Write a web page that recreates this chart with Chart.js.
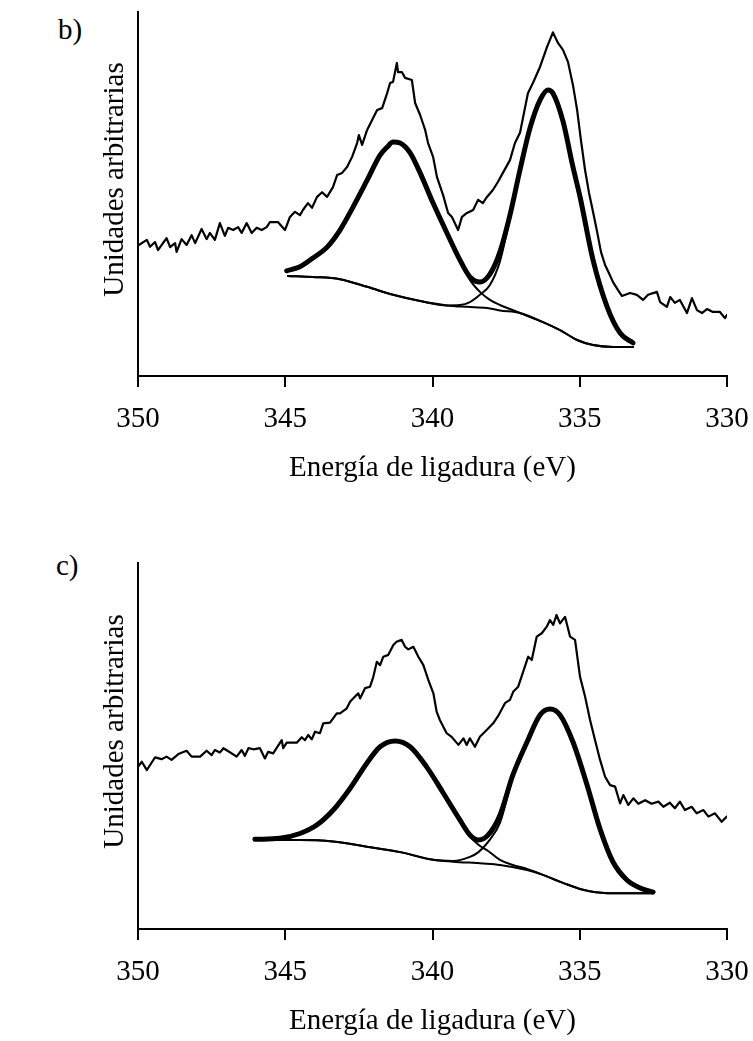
<!DOCTYPE html>
<html>
<head>
<meta charset="utf-8">
<script src="https://cdn.jsdelivr.net/npm/chart.js@4.4.0/dist/chart.umd.min.js"></script>
<style>
  body { margin: 0; background: #fff; }
  #page { position: relative; width: 753px; height: 1041px; }
  canvas { position: absolute; left: 0; }
  .panel { position: absolute; font-family: 'Liberation Serif', 'Times New Roman', serif; font-size: 29px; line-height: 29px; color: #000; }
</style>
</head>
<body>
<div id="page">
  <div class="panel" style="left:58px; top:15px;">b)</div>
  <canvas id="chartB" width="753" height="500" style="top:0px"></canvas>
  <div class="panel" style="left:56px; top:551px;">c)</div>
  <canvas id="chartC" width="753" height="490" style="top:551px"></canvas>
</div>
<script>
// binding energy (eV) vs intensity (arbitrary units, 0-100 of the axis height)
const xTicks = [350, 345, 340, 335, 330]

// ---- panel b) ----
const rawB = [
  [350.00, 35.8], [349.70, 37.4], [349.59, 35.5], [349.42, 36.8], [349.32, 34.6], [349.03, 37.9],
  [348.91, 35.4], [348.74, 36.5], [348.69, 34.1], [348.52, 37.6], [348.35, 36.0], [348.18, 38.7],
  [348.06, 36.5], [347.84, 40.4], [347.67, 37.6], [347.56, 39.3], [347.39, 37.4], [347.22, 42.0],
  [347.05, 38.5], [346.94, 40.7], [346.77, 40.1], [346.60, 40.9], [346.48, 39.3], [346.31, 42.0],
  [346.14, 39.3], [345.97, 40.7], [345.80, 40.1], [345.63, 40.9], [345.52, 42.3], [345.25, 42.3],
  [345.01, 40.1], [344.84, 43.7], [344.67, 45.1], [344.50, 44.2], [344.40, 45.6], [344.23, 47.5],
  [344.09, 46.2], [343.92, 49.2], [343.75, 50.5], [343.58, 49.2], [343.38, 51.9], [343.24, 55.2],
  [343.07, 55.8], [342.90, 57.4], [342.73, 60.2], [342.56, 64.0], [342.50, 66.2], [342.39, 63.5],
  [342.22, 67.6], [342.05, 70.3], [341.88, 73.1], [341.71, 73.6], [341.54, 77.7], [341.44, 80.5],
  [341.34, 80.8], [341.21, 86.0], [341.17, 83.5], [341.04, 83.5], [340.93, 81.9], [340.70, 81.3],
  [340.59, 75.0], [340.42, 71.7], [340.25, 67.6], [340.15, 64.0], [339.98, 60.2], [339.85, 54.7],
  [339.64, 49.7], [339.47, 44.8], [339.34, 43.7], [339.13, 40.1], [339.00, 43.7], [338.83, 44.8],
  [338.62, 45.6], [338.45, 48.4], [338.29, 47.5], [338.15, 49.2], [337.95, 51.1], [337.78, 53.3],
  [337.61, 55.8], [337.37, 59.3], [337.20, 64.0], [337.03, 66.8], [336.76, 77.7], [336.59, 80.5],
  [336.35, 84.9], [336.11, 90.4], [335.91, 94.4], [335.74, 91.5], [335.57, 89.6], [335.40, 86.3],
  [335.23, 79.9], [335.09, 73.1], [334.96, 64.8], [334.82, 56.6], [334.69, 50.5], [334.55, 45.1],
  [334.41, 39.6], [334.28, 34.1], [334.14, 30.5], [334.01, 28.3], [333.87, 25.8], [333.70, 23.6],
  [333.57, 22.0], [333.29, 22.8], [333.06, 22.3], [332.85, 20.9], [332.68, 22.3], [332.38, 23.1],
  [332.27, 20.3], [332.04, 19.0], [331.93, 21.7], [331.77, 20.1], [331.60, 20.9], [331.36, 17.3],
  [331.19, 21.4], [331.02, 18.1], [330.85, 17.3], [330.68, 18.4], [330.48, 17.6], [330.24, 17.6],
  [330.07, 15.9], [330.00, 16.8]
]
const envB = [
  [344.95, 28.9], [344.50, 30.0], [344.06, 32.4], [343.58, 35.4], [343.14, 40.1], [342.70, 46.4],
  [342.22, 53.8], [341.78, 60.7], [341.54, 62.9], [341.34, 64.3], [341.10, 64.0], [340.76, 61.3],
  [340.42, 55.8], [339.98, 47.5], [339.51, 39.3], [339.07, 31.9], [338.73, 27.2], [338.39, 25.8],
  [338.05, 28.0], [337.71, 34.1], [337.37, 44.2], [337.03, 56.6], [336.69, 68.1], [336.35, 75.8],
  [336.08, 78.6], [335.91, 77.7], [335.57, 70.0], [335.23, 57.4], [334.99, 49.2], [334.55, 31.9],
  [334.07, 19.0], [333.63, 11.8], [333.19, 9.1]
]
const peakAB = [
  [344.95, 28.9], [344.50, 30.0], [344.06, 32.4], [343.58, 35.4], [343.14, 40.1], [342.70, 46.4],
  [342.22, 53.8], [341.78, 60.7], [341.54, 62.9], [341.34, 64.3], [341.10, 64.0], [340.76, 61.3],
  [340.42, 55.8], [339.98, 47.5], [339.51, 39.3], [339.07, 31.9], [338.73, 26.4], [338.39, 23.1],
  [338.05, 20.9], [337.71, 19.5], [337.37, 18.4], [337.03, 17.3], [336.69, 16.2], [336.25, 14.8],
  [335.67, 12.6], [335.09, 9.9], [334.55, 8.5], [333.87, 8.0], [333.19, 8.0]
]
const peakBB = [
  [344.91, 27.5], [344.06, 27.2], [343.14, 26.6], [342.22, 24.5], [341.34, 22.3], [340.42, 20.6],
  [339.51, 19.4], [339.07, 19.5], [338.73, 20.3], [338.39, 22.3], [338.05, 25.0], [337.71, 31.5],
  [337.37, 43.5], [337.03, 56.6], [336.69, 68.1], [336.35, 75.8], [336.08, 78.6], [335.91, 77.7],
  [335.57, 70.0], [335.23, 57.4], [334.99, 49.2], [334.55, 31.9], [334.07, 19.0], [333.63, 11.8],
  [333.19, 9.1]
]
const bgB = [
  [344.91, 27.5], [344.06, 27.2], [343.14, 26.6], [342.22, 24.5], [341.34, 22.3], [340.42, 20.6],
  [339.51, 19.4], [338.83, 19.0], [338.15, 18.7], [337.71, 18.0], [337.03, 17.3], [336.25, 14.8],
  [335.67, 12.6], [335.09, 9.9], [334.55, 8.5], [333.87, 8.0], [333.19, 8.0]
]

// ---- panel c) ----
const rawC = [
  [350.00, 44.3], [349.87, 45.7], [349.70, 43.4], [349.59, 44.8], [349.42, 46.9], [349.20, 46.4],
  [349.03, 47.1], [348.86, 46.2], [348.63, 47.8], [348.35, 48.7], [348.18, 47.1], [347.89, 47.1],
  [347.67, 48.7], [347.50, 47.5], [347.39, 48.9], [347.22, 48.2], [347.10, 49.4], [346.88, 48.3],
  [346.65, 47.1], [346.48, 48.9], [346.37, 47.3], [346.25, 49.4], [346.08, 49.1], [345.86, 49.4],
  [345.69, 46.6], [345.58, 48.4], [345.41, 48.0], [345.12, 51.6], [345.07, 49.4], [344.95, 50.9],
  [344.61, 50.9], [344.44, 52.4], [344.33, 51.6], [344.22, 53.0], [344.10, 51.8], [343.99, 53.9],
  [343.82, 53.5], [343.71, 56.2], [343.48, 56.4], [343.25, 58.9], [343.14, 58.9], [342.91, 60.3],
  [342.80, 62.1], [342.63, 63.5], [342.52, 64.4], [342.46, 63.0], [342.29, 65.8], [342.12, 66.2],
  [342.01, 68.9], [341.89, 73.0], [341.78, 72.1], [341.67, 74.4], [341.50, 74.9], [341.33, 77.6],
  [341.22, 78.5], [341.05, 79.0], [340.93, 77.1], [340.82, 76.4], [340.65, 77.1], [340.48, 74.4],
  [340.31, 72.1], [340.14, 68.0], [339.97, 64.4], [339.86, 59.4], [339.75, 57.1], [339.52, 53.5],
  [339.35, 52.5], [339.12, 50.3], [338.95, 52.1], [338.84, 50.3], [338.73, 52.1], [338.56, 49.8],
  [338.39, 52.5], [338.16, 54.4], [337.94, 56.2], [337.77, 58.2], [337.54, 61.7], [337.37, 62.6],
  [337.26, 64.8], [337.09, 66.2], [336.92, 70.3], [336.75, 74.4], [336.63, 73.5], [336.46, 79.9],
  [336.29, 80.8], [336.12, 82.6], [336.01, 84.4], [335.90, 83.1], [335.79, 85.8], [335.67, 83.5],
  [335.50, 85.3], [335.33, 79.9], [335.16, 79.0], [334.99, 68.9], [334.82, 63.5], [334.65, 57.1],
  [334.48, 51.6], [334.31, 46.2], [334.14, 41.6], [333.97, 39.3], [333.80, 38.9], [333.63, 34.3],
  [333.52, 36.6], [333.35, 33.9], [333.18, 35.7], [333.01, 34.2], [332.78, 35.2], [332.56, 34.2],
  [332.33, 34.8], [332.16, 33.4], [331.94, 34.5], [331.77, 33.0], [331.60, 34.8], [331.43, 32.5],
  [331.20, 33.4], [331.03, 31.6], [330.80, 32.5], [330.63, 30.7], [330.41, 31.6], [330.18, 29.3],
  [330.01, 30.7]
]
const envC = [
  [346.03, 24.5], [345.18, 24.8], [344.50, 26.1], [343.93, 28.4], [343.37, 32.5], [342.80, 38.4],
  [342.23, 45.3], [341.78, 49.8], [341.27, 51.4], [340.76, 49.8], [340.20, 44.3], [339.63, 37.1],
  [339.07, 29.8], [338.73, 25.7], [338.44, 24.3], [338.11, 25.7], [337.71, 31.1], [337.27, 42.1],
  [336.79, 51.1], [336.35, 58.5], [336.01, 60.1], [335.67, 58.5], [335.23, 51.1], [334.75, 39.3],
  [334.31, 27.3], [333.87, 18.3], [333.40, 13.4], [332.95, 11.2], [332.51, 10.1]
]
const peakAC = [
  [346.03, 24.5], [345.18, 24.8], [344.50, 26.1], [343.93, 28.4], [343.37, 32.5], [342.80, 38.4],
  [342.23, 45.3], [341.78, 49.8], [341.27, 51.4], [340.76, 49.8], [340.20, 44.3], [339.63, 37.1],
  [339.07, 29.8], [338.73, 25.4], [338.44, 23.0], [338.11, 21.3], [337.71, 18.9], [337.27, 17.5],
  [336.79, 16.4], [336.25, 14.8], [335.57, 12.6], [334.89, 10.7], [334.07, 9.8], [333.19, 9.8],
  [332.51, 9.8]
]
const peakBC = [
  [345.97, 24.3], [344.50, 24.3], [343.38, 23.9], [342.23, 22.5], [341.10, 21.0], [339.98, 18.9],
  [339.30, 18.6], [338.73, 19.7], [338.44, 21.0], [338.11, 23.8], [337.71, 29.0], [337.27, 41.5],
  [336.79, 51.1], [336.35, 58.5], [336.01, 60.1], [335.67, 58.5], [335.23, 51.1], [334.75, 39.3],
  [334.31, 27.3], [333.87, 18.3], [333.40, 13.4], [332.95, 11.2], [332.51, 10.1]
]
const bgC = [
  [345.97, 24.3], [344.50, 24.3], [343.38, 23.9], [342.23, 22.5], [341.10, 21.0], [339.98, 18.9],
  [339.30, 18.4], [338.29, 17.9], [337.71, 17.5], [336.79, 16.1], [336.25, 14.8], [335.57, 12.6],
  [334.89, 10.7], [334.07, 9.8], [333.19, 9.8], [332.51, 9.8]
]

const serif = "'Liberation Serif', 'Times New Roman', serif"

function line(points, width, smooth) {
  return {
    data: points.map(p => ({ x: p[0], y: p[1] })),
    borderColor: '#000',
    borderWidth: width,
    borderJoinStyle: 'round',
    borderCapStyle: 'round',
    pointRadius: 0,
    fill: false,
    tension: smooth ? 0.4 : 0,
    cubicInterpolationMode: smooth ? 'monotone' : 'default'
  }
}

function makeChart(id, raw, env, peakA, peakB, bg, padBottom) {
  return new Chart(document.getElementById(id), {
    type: 'line',
    data: {
      datasets: [
        line(raw, 2.2, false),
        line(env, 5, true),
        line(peakA, 2, true),
        line(peakB, 2, true),
        line(bg, 2, true)
      ]
    },
    options: {
      responsive: false,
      animation: false,
      events: [],
      layout: { padding: { left: 0, right: 26, top: 12, bottom: padBottom } },
      plugins: { legend: { display: false }, tooltip: { enabled: false } },
      scales: {
        x: {
          type: 'linear',
          reverse: true,
          min: 330,
          max: 350,
          afterBuildTicks: s => { s.ticks = xTicks.map(v => ({ value: v })) },
          // fixed axis box, and keep the end labels from squeezing the plot
          afterFit: s => { s.height = 110; s.paddingLeft = 0; s.paddingRight = 0 },
          grid: { display: true, drawOnChartArea: false, drawTicks: true, tickLength: 11, color: '#000', lineWidth: 2 },
          border: { display: true, color: '#000', width: 2 },
          ticks: { color: '#000', font: { family: serif, size: 29 }, padding: 15, maxRotation: 0, autoSkip: false },
          title: { display: true, text: 'Energía de ligadura (eV)', color: '#000', font: { family: serif, size: 29 }, padding: 0 }
        },
        y: {
          min: 0,
          max: 100,
          afterFit: s => { s.width = 138 },
          grid: { display: false },
          border: { display: true, color: '#000', width: 2 },
          ticks: { display: false },
          title: { display: true, text: '    Unidades arbitrarias', color: '#000', font: { family: serif, size: 29 }, padding: { top: 98, bottom: 0 } }
        }
      }
    }
  })
}

window.chartB = makeChart('chartB', rawB, envB, peakAB, peakBB, bgB, 14)
window.chartC = makeChart('chartC', rawC, envC, peakAC, peakBC, bgC, 2)
</script>
</body>
</html>
